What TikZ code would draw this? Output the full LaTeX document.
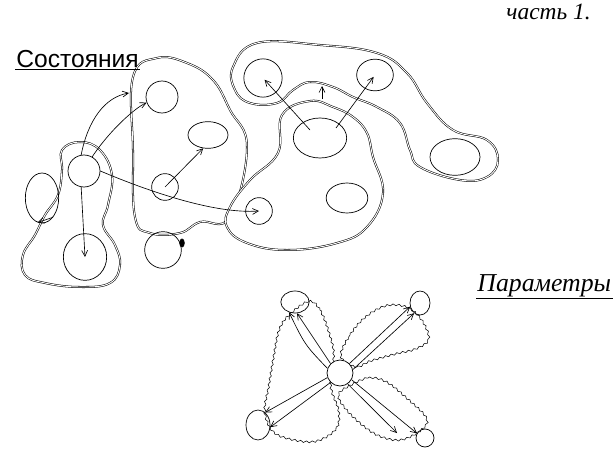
\documentclass[tikz,border=0pt]{standalone}
\usepackage{fontspec}
\setmainfont{Liberation Serif}
\newfontfamily\printfont{Liberation Sans}
\usetikzlibrary{arrows.meta, shapes.geometric, decorations.pathmorphing, calc}
\tikzset{
  sk/.style={line width=0.6pt, black},
  blob/.style={double=white, double distance=0.8pt, line width=0.45pt, fill=white},
  petal/.style={line width=0.45pt, decorate,
    decoration={snake, segment length=5pt, amplitude=0.8pt}},
  st/.style={ellipse, draw, line width=0.6pt, inner sep=0pt},
  arr/.style={-{Straight Barb[length=5pt,width=5pt]}, line width=0.55pt},
  ttl/.style={font=\printfont\fontsize{21}{23}\selectfont, inner sep=1pt},
  hnd/.style={font=\itshape\fontsize{22}{24}\selectfont, inner sep=1pt},
}

\begin{document}
\begin{tikzpicture}[x=0.03cm, y=-0.03cm]
\useasboundingbox (0,0) rectangle (616,450);

% --- state blobs
\draw[blob] plot[smooth cycle, tension=0.7] coordinates {
  (62,150) (80,142) (100,150) (112,175) (108,205) (103,225) (115,245)
  (120,265) (110,283) (80,287) (45,283) (25,275) (23,255) (35,235)
  (45,215) (58,195) (62,170)};
\draw[blob] plot[smooth cycle, tension=0.7] coordinates {
  (157,58) (187,63) (213,80) (230,110) (247,147) (230,217) (200,222)
  (180,233) (150,233) (135,217) (133,150) (133,77)};
\draw[blob] plot[smooth cycle, tension=0.7] coordinates {
  (233,67) (257,43) (320,45) (377,53) (407,73) (427,103) (453,130)
  (487,140) (498,160) (487,177) (460,180) (420,167) (410,150) (400,123)
  (377,107) (353,97) (333,87) (310,82) (293,90) (277,103) (250,103)
  (235,90)};
\draw[blob] plot[smooth cycle, tension=0.7] coordinates {
  (310,101) (333,107) (353,117) (367,133) (373,157) (383,193) (367,227)
  (337,243) (287,250) (247,243) (227,227) (230,207) (250,180) (278,153)
  (282,115)};

% --- states
\node[st, minimum width=0.96cm, minimum height=0.96cm] (L1) at (84,171) {};
\node[st, minimum width=1.3cm, minimum height=1.4cm] (L2) at (85,257) {};
\node[st, minimum width=1.0cm, minimum height=1.5cm] (L0) at (42,198) {};
\node[st, minimum width=0.96cm, minimum height=0.96cm] (M1) at (162,97) {};
\node[st, minimum width=1.2cm, minimum height=0.8cm] (M2) at (208,135) {};
\node[st, minimum width=0.8cm, minimum height=0.8cm] (M3) at (165,187) {};
\node[st, minimum width=1.1cm, minimum height=1.1cm] (M4) at (163,250) {};
\node[st, fill, minimum width=4pt, minimum height=7pt] (mk) at (182,243) {};
\node[st, minimum width=0.8cm, minimum height=0.8cm] (R3) at (259,211) {};
\node[st, minimum width=1.6cm, minimum height=1.2cm] (R1) at (320,138) {};
\node[st, minimum width=1.25cm, minimum height=0.9cm] (R2) at (347,198) {};
\node[st, minimum width=1.15cm, minimum height=1.15cm] (T1) at (263,78) {};
\node[st, minimum width=1.1cm, minimum height=0.95cm] (T2) at (375,75) {};
\node[st, minimum width=1.5cm, minimum height=1.1cm] (T3) at (455,157) {};

\coordinate (mtop) at (129,93);
\coordinate (ub) at (322,99);
\coordinate (ut) at (322,86);

% --- transitions
\draw[arr] (L1.100) .. controls (88,120) and (105,97) .. (mtop);
\draw[arr] (L1.60) .. controls (110,130) and (135,108) .. (M1.200);
\draw[arr] (L1.260) -- (L2.center);
\draw[arr] (L0.-60) -- (L0.-100);
\draw[arr] (M3.center) -- (M2.250);
\draw[arr] (L1.east) .. controls (150,192) and (215,214) .. (R3.center);
\draw[arr, shorten >=2pt] ($(R1.center)+(-10,-8)$) -- (T1.center);
\draw[arr, shorten >=2pt] ($(R1.center)+(16,-10)$) -- (T2.center);
\draw[arr] (ub) -- (ut);

% --- parameters
\draw[petal] plot[smooth cycle, tension=0.6] coordinates {
  (308,300) (320,310) (330,337) (333,355) (330,385) (338,410) (335,428)
  (315,440) (290,438) (272,430) (264,410) (268,385) (273,355) (278,330)
  (287,315)};
\draw[petal] plot[smooth cycle, tension=0.6] coordinates {
  (340,357) (350,335) (365,318) (385,307) (405,308) (420,320) (428,340)
  (415,350) (395,355) (370,362) (355,368)};
\draw[petal] plot[smooth cycle, tension=0.6] coordinates {
  (350,385) (368,378) (385,382) (405,398) (425,418) (420,430) (400,440)
  (380,437) (363,427) (345,410) (337,395)};

\node[st, fill=white, minimum width=0.78cm, minimum height=0.78cm] (C) at (340,373) {};
\node[st, minimum width=0.85cm, minimum height=0.66cm] (P1) at (295,302) {};
\node[st, minimum width=0.6cm, minimum height=0.72cm] (P2) at (420,303) {};
\node[st, minimum width=0.72cm, minimum height=0.9cm] (P3) at (258,425) {};
\node[st, minimum width=0.54cm, minimum height=0.54cm] (P4) at (425,438) {};

\draw[arr] (C.135) -- (P1.-80);
\draw[arr] (C.160) .. controls (305,345) .. (P1.-120);
\draw[arr] (C.45) -- (P2.200);
\draw[arr] (C.15) -- (P2.240);
\draw[arr] (C.-30) -- (P4.150);
\draw[arr] (C.-55) -- ($(P4.center)+(-28,-5)$);
\draw[arr] (C.200) -- (P3.60);
\draw[arr] (C.225) -- (P3.-10);

% --- labels
\node[ttl, anchor=south west] (tSost) at (15,69) {Состояния};
\draw[sk] (tSost.south west) -- (tSost.south east);
\node[hnd, font=\itshape\fontsize{20}{22}\selectfont, anchor=base west] (tPart) at (505,20) {часть 1.};
\node[hnd, anchor=south west] (tPar) at (476,298) {Параметры};
\draw[sk] (tPar.south west) -- (tPar.south east);
\end{tikzpicture}
\end{document}
